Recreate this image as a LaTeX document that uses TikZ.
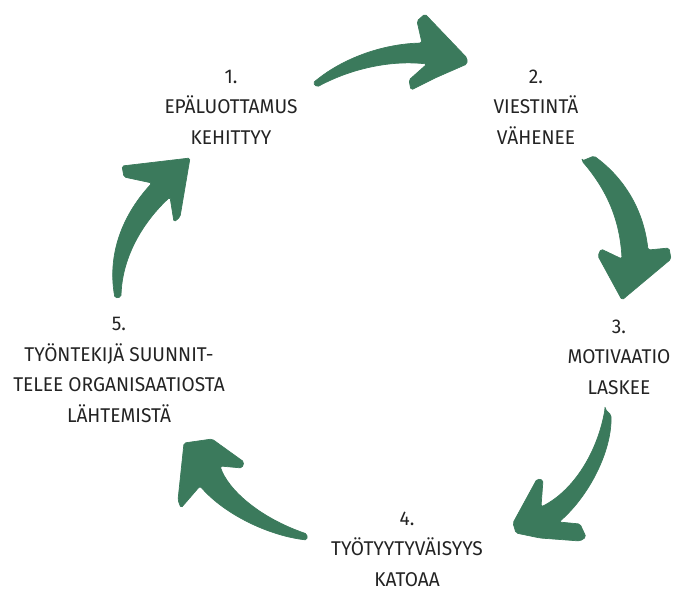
\documentclass[tikz,border=0pt]{standalone}
\usepackage{fontspec}
\setmainfont{Fira Sans}[FakeStretch=0.96]
\definecolor{brush}{RGB}{59,122,92}
\definecolor{ink}{RGB}{35,35,35}
\tikzset{
  brush arrow/.style={fill=brush, draw=brush, line width=0.6pt, rounded corners=1.5pt, line join=round},
  stage/.style={align=center, text=ink, font=\fontsize{17}{26}\selectfont, inner sep=0pt},
}
\begin{document}
\begin{tikzpicture}[x=0.03cm, y=-0.03cm]
  \useasboundingbox (0,0) rectangle (673,588);
  \clip (0,0) rectangle (673,588);

  % cycle stages
  \node[stage] (s1) at (231,107) {1.\\EPÄLUOTTAMUS\\KEHITTYY};
  \node[stage] (s2) at (536,107) {2.\\VIESTINTÄ\\VÄHENEE};
  \node[stage] (s3) at (619,357) {3.\\MOTIVAATIO\\LASKEE};
  \node[stage] (s4) at (407,549) {4.\\TYÖTYYTYVÄISYYS\\KATOAA};
  \node[stage] (s5) at (119,370) {5.\\TYÖNTEKIJÄ SUUNNIT-\\TELEE ORGANISAATIOSTA\\LÄHTEMISTÄ};

  % brush-stroke arrows, clockwise
  \fill[brush arrow] (313,83) .. controls (340,60) and (380,44) .. (422,43) -- (417,21) -- (425,14)
    -- (467,58) -- (467,64) -- (435,78) -- (411,90) -- (409,80) -- (427,64)
    .. controls (392,60) and (352,68) .. (317,87) -- cycle;
  \fill[brush arrow] (582,161) -- (594,156) .. controls (620,175) and (643,205) .. (648,250)
    -- (669,248) -- (671,259) -- (622,300) -- (598,256) -- (601,249) -- (622,259)
    .. controls (620,220) and (607,190) .. (582,161) -- cycle;
  \fill[brush arrow] (605,409) -- (611,415) .. controls (612,450) and (590,495) .. (559,522)
    -- (580,524) -- (586,537) -- (580,541) -- (540,538) -- (516,533) -- (513,523)
    -- (537,479) -- (543,480) -- (541,507)
    .. controls (575,490) and (598,450) .. (605,409) -- cycle;
  \fill[brush arrow] (307,540) .. controls (270,536) and (225,515) .. (200,486) -- (181,508)
    -- (178,500) -- (184,443) -- (212,439) -- (244,462) -- (242,468) -- (220,466)
    .. controls (228,490) and (260,518) .. (307,534) -- cycle;
  \fill[brush arrow] (115,298) .. controls (108,260) and (118,220) .. (152,183) -- (124,177)
    -- (122,166) -- (190,158) -- (180,217) -- (174,222) -- (170,197)
    .. controls (145,220) and (122,255) .. (121,297) -- cycle;
\end{tikzpicture}
\end{document}
